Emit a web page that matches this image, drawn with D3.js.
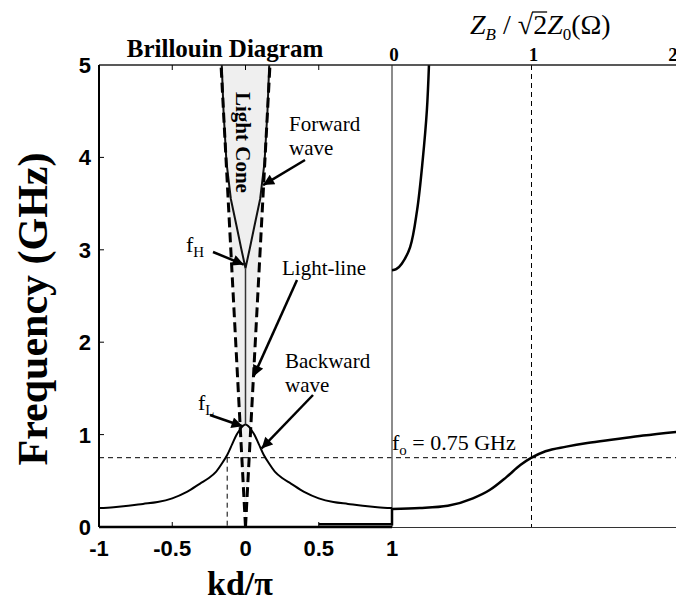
<!DOCTYPE html>
<html>
<head>
<meta charset="utf-8">
<script src="https://cdn.jsdelivr.net/npm/d3@7"></script>
<style>
  body { margin: 0; background: #fff; }
  svg { display: block; }
</style>
</head>
<body>
<script>
const width = 676, height = 604;

// ticks
const kdTicks = [-1, -0.5, 0, 0.5, 1];
const kdTickLabels = ["-1", "-0.5", "0", "0.5", "1"];
const fTicks = [0, 1, 2, 3, 4, 5];
const zTicks = [0, 1, 2];

// Brillouin diagram (kd/pi, GHz) - backward wave branch, mirrored about kd = 0
const kBack = [0, 0.02, 0.04, 0.06, 0.09, 0.125, 0.16, 0.2, 0.25, 0.31, 0.4, 0.5, 0.6, 0.7, 0.8, 0.9, 1.0];
const fBack = [1.11, 1.09, 1.05, 1.0, 0.9, 0.78, 0.69, 0.6, 0.53, 0.47, 0.38, 0.31, 0.27, 0.25, 0.23, 0.215, 0.205];
// forward wave branch
const kFwd = [0, 0.03, 0.06, 0.1, 0.13, 0.15, 0.162];
const fFwd = [2.8, 3.02, 3.25, 3.55, 3.95, 4.5, 5.0];
// light line
const kLight = [0, 0.167];
const fLight = [0, 5];
const fL = 1.11, fH = 2.8, f0 = 0.75, kCross = -0.125;
// small segment near the bottom right of the Brillouin panel
const kBase = [0.5, 1, 1];
const fBase = [0.03, 0.03, 0.2];

// Bloch impedance panel (ZB / sqrt2 Z0, GHz)
const zLow = [0, 0.2, 0.4, 0.58, 0.7, 0.82, 0.92, 1.0, 1.1, 1.25, 1.4, 1.6, 1.8, 2.04];
const fLow = [0.195, 0.205, 0.23, 0.31, 0.4, 0.54, 0.67, 0.75, 0.82, 0.87, 0.91, 0.95, 0.99, 1.03];
const zHigh = [0, 0.03, 0.07, 0.13, 0.18, 0.22, 0.25, 0.265];
const fHigh = [2.78, 2.79, 2.85, 3.03, 3.43, 3.97, 4.51, 5.0];

const svg = d3.select("body").append("svg")
    .attr("width", width)
    .attr("height", height);

const x = d3.scaleLinear().domain([-1, 1]).range([99, 392]);
const xz = d3.scaleLinear().domain([0, 2]).range([392, 671]);
const y = d3.scaleLinear().domain([0, 5]).range([527, 65]);

const serif = "'Liberation Serif', 'Times New Roman', serif";
const sans = "'Liberation Sans', Arial, sans-serif";

const defs = svg.append("defs");
defs.append("marker")
    .attr("id", "arrow")
    .attr("viewBox", "0 0 10 10")
    .attr("refX", 10)
    .attr("refY", 5)
    .attr("markerWidth", 5)
    .attr("markerHeight", 4.4)
    .attr("markerUnits", "strokeWidth")
    .attr("orient", "auto")
    .append("path")
    .attr("d", "M 0 0 L 10 5 L 0 10 Z")
    .attr("fill", "#000");

const clip = defs.append("clipPath").attr("id", "plotclip");
clip.append("rect").attr("x", 99).attr("y", 65).attr("width", width - 99).attr("height", 527 - 65);

const line = d3.line();
const smooth = d3.line().curve(d3.curveCatmullRom);
const plot = svg.append("g").attr("clip-path", "url(#plotclip)");

// Light cone fill
const cone = [[-kLight[1], fLight[1]], [kLight[0], fLight[0]], [kLight[1], fLight[1]]];
plot.append("path")
    .attr("d", line(cone.map(d => [x(d[0]), y(d[1])])) + "Z")
    .attr("fill", "#efefef");

// dashed reference lines
plot.append("line")
    .attr("x1", 99).attr("x2", width)
    .attr("y1", y(f0)).attr("y2", y(f0))
    .attr("stroke", "#000").attr("stroke-width", 1)
    .attr("stroke-dasharray", "5,4");
plot.append("line")
    .attr("x1", xz(1)).attr("x2", xz(1))
    .attr("y1", y(5)).attr("y2", y(0))
    .attr("stroke", "#000").attr("stroke-width", 1)
    .attr("stroke-dasharray", "5,4");
plot.append("line")
    .attr("x1", x(kCross)).attr("x2", x(kCross))
    .attr("y1", y(f0)).attr("y2", y(0))
    .attr("stroke", "#000").attr("stroke-width", 1)
    .attr("stroke-dasharray", "5,4");

// right panel y axis (ZB = 0)
plot.append("line")
    .attr("x1", xz(0)).attr("x2", xz(0))
    .attr("y1", y(5)).attr("y2", y(0))
    .attr("stroke", "#666").attr("stroke-width", 1.5);

// backward wave curve
const backPts = kBack.map((k, i) => [-k, fBack[i]]).reverse()
    .concat(kBack.slice(1).map((k, i) => [k, fBack[i + 1]]));
plot.append("path")
    .attr("d", smooth(backPts.map(d => [x(d[0]), y(d[1])])))
    .attr("fill", "none").attr("stroke", "#000").attr("stroke-width", 2);

// forward wave curve
const fwdPts = kFwd.map((k, i) => [-k, fFwd[i]]).reverse()
    .concat(kFwd.slice(1).map((k, i) => [k, fFwd[i + 1]]));
plot.append("path")
    .attr("d", line(fwdPts.map(d => [x(d[0]), y(d[1])])))
    .attr("fill", "none").attr("stroke", "#111").attr("stroke-width", 2);

// stop band line at kd = 0
plot.append("line")
    .attr("x1", x(0)).attr("x2", x(0))
    .attr("y1", y(fL)).attr("y2", y(fH))
    .attr("stroke", "#333").attr("stroke-width", 1.5);

// light lines
[-1, 1].forEach(s => {
    plot.append("line")
        .attr("x1", x(s * kLight[0])).attr("y1", y(fLight[0]))
        .attr("x2", x(s * kLight[1])).attr("y2", y(fLight[1]))
        .attr("stroke", "#000").attr("stroke-width", 3)
        .attr("stroke-dasharray", "10,5");
});

// bottom segment
plot.append("path")
    .attr("d", line(kBase.map((k, i) => [x(k), y(fBase[i])])))
    .attr("fill", "none").attr("stroke", "#000").attr("stroke-width", 2.5);

// impedance curves
const zLine = d3.line().curve(d3.curveMonotoneX);
plot.append("path")
    .attr("d", zLine(zLow.map((z, i) => [xz(z), y(fLow[i])])))
    .attr("fill", "none").attr("stroke", "#000").attr("stroke-width", 2.5);
plot.append("path")
    .attr("d", smooth(zHigh.map((z, i) => [xz(z), y(fHigh[i])])))
    .attr("fill", "none").attr("stroke", "#000").attr("stroke-width", 2.5);

// frame
svg.append("line").attr("x1", 99).attr("x2", width).attr("y1", y(5)).attr("y2", y(5))
    .attr("stroke", "#222").attr("stroke-width", 1.5);
svg.append("line").attr("x1", 99).attr("x2", 99).attr("y1", y(5)).attr("y2", y(0))
    .attr("stroke", "#000").attr("stroke-width", 2);
svg.append("line").attr("x1", 99).attr("x2", x(1)).attr("y1", y(0)).attr("y2", y(0))
    .attr("stroke", "#000").attr("stroke-width", 2.5);
svg.append("line").attr("x1", x(1)).attr("x2", width).attr("y1", y(0) + 0.5).attr("y2", y(0) + 0.5)
    .attr("stroke", "#333").attr("stroke-width", 1);

// inner ticks
const innerK = kdTicks.filter(k => Math.abs(k) < 1);
svg.selectAll(".ktick-top").data(innerK).enter().append("line")
    .attr("x1", d => x(d)).attr("x2", d => x(d))
    .attr("y1", y(5)).attr("y2", y(5) + 5)
    .attr("stroke", "#000").attr("stroke-width", 1);
svg.selectAll(".ktick-bot").data(innerK).enter().append("line")
    .attr("x1", d => x(d)).attr("x2", d => x(d))
    .attr("y1", y(0)).attr("y2", y(0) - 5)
    .attr("stroke", "#000").attr("stroke-width", 1);
svg.selectAll(".ftick").data(fTicks.slice(1, -1)).enter().append("line")
    .attr("x1", 99).attr("x2", 104)
    .attr("y1", d => y(d)).attr("y2", d => y(d))
    .attr("stroke", "#000").attr("stroke-width", 1);

// tick labels
svg.selectAll(".klabel").data(kdTicks).enter().append("text")
    .attr("x", d => x(d)).attr("y", 556)
    .attr("text-anchor", "middle")
    .attr("font-family", sans).attr("font-weight", "bold").attr("font-size", 22)
    .text((d, i) => kdTickLabels[i]);
svg.selectAll(".flabel").data(fTicks).enter().append("text")
    .attr("x", 91).attr("y", d => y(d) + 8)
    .attr("text-anchor", "end")
    .attr("font-family", sans).attr("font-weight", "bold").attr("font-size", 22)
    .text(d => d);
svg.selectAll(".zlabel").data(zTicks).enter().append("text")
    .attr("x", d => xz(d) + 2).attr("y", 61)
    .attr("text-anchor", "middle")
    .attr("font-family", serif).attr("font-weight", "bold").attr("font-size", 19)
    .text(d => d);

// titles
svg.append("text")
    .attr("x", 225).attr("y", 57)
    .attr("text-anchor", "middle")
    .attr("font-family", serif).attr("font-weight", "bold").attr("font-size", 25)
    .text("Brillouin Diagram");

svg.append("text")
    .attr("x", 240).attr("y", 595)
    .attr("text-anchor", "middle")
    .attr("font-family", serif).attr("font-weight", "bold").attr("font-size", 34)
    .text("kd/π");

svg.append("text")
    .attr("transform", "translate(47,309) rotate(-90)")
    .attr("text-anchor", "middle")
    .attr("font-family", serif).attr("font-weight", "bold").attr("font-size", 42)
    .text("Frequency (GHz)");

// top axis label: ZB / sqrt2 Z0 (Ohm)
const zt = svg.append("text")
    .attr("x", 470).attr("y", 34)
    .attr("font-family", serif).attr("font-size", 28);
zt.append("tspan").attr("font-style", "italic").text("Z");
zt.append("tspan").attr("font-style", "italic").attr("font-size", 17).attr("dy", 6).text("B");
zt.append("tspan").attr("dy", -6).text(" / √");
const two = zt.append("tspan").text("2");
zt.append("tspan").attr("font-style", "italic").text("Z");
zt.append("tspan").attr("font-size", 17).attr("dy", 6).text("0");
zt.append("tspan").attr("dy", -6).text("(Ω)");
const tb = two.node().getBBox();
svg.append("line")
    .attr("x1", tb.x - 1).attr("x2", tb.x + tb.width)
    .attr("y1", tb.y + 3).attr("y2", tb.y + 3)
    .attr("stroke", "#000").attr("stroke-width", 1.3);

// light cone label
svg.append("text")
    .attr("transform", `translate(${x(-0.02)},92) rotate(90)`)
    .attr("dominant-baseline", "central")
    .attr("font-family", serif).attr("font-weight", "bold").attr("font-size", 21)
    .text("Light Cone");

// annotations
const notes = [
    { lines: ["Forward", "wave"], x: 289, y: 131 },
    { lines: ["Light-line"], x: 282, y: 275 },
    { lines: ["Backward", "wave"], x: 285, y: 368 }
];
notes.forEach(n => {
    const t = svg.append("text")
        .attr("x", n.x).attr("y", n.y)
        .attr("font-family", serif).attr("font-size", 21);
    n.lines.forEach((s, i) => {
        t.append("tspan").attr("x", n.x).attr("dy", i ? 24 : 0).text(s);
    });
});

function subLabel(xp, yp, main, sub, size) {
    const t = svg.append("text")
        .attr("x", xp).attr("y", yp)
        .attr("font-family", serif).attr("font-size", size);
    t.append("tspan").text(main);
    t.append("tspan").attr("font-size", size * 0.68).attr("dy", 5).text(sub);
    return t;
}
subLabel(186, 252, "f", "H", 22);
subLabel(198, 410, "f", "L", 22);
const fo = subLabel(392, 450, "f", "o", 22);
fo.append("tspan").attr("dy", -5).text(" = 0.75 GHz");

// arrows: from text (px offsets) to data points
const arrows = [
    { x1: 305, y1: 160, k: 0.12, f: 3.7 },
    { x1: 213, y1: 252, k: -0.012, f: 2.84 },
    { x1: 297, y1: 280, k: 0.055, f: 1.63 },
    { x1: 313, y1: 395, k: 0.11, f: 0.85 },
    { x1: 210, y1: 415, k: -0.02, f: 1.09 }
];
svg.selectAll(".arrow").data(arrows).enter().append("line")
    .attr("x1", d => d.x1).attr("y1", d => d.y1)
    .attr("x2", d => x(d.k)).attr("y2", d => y(d.f))
    .attr("stroke", "#000").attr("stroke-width", 2.5)
    .attr("marker-end", "url(#arrow)");
</script>
</body>
</html>
